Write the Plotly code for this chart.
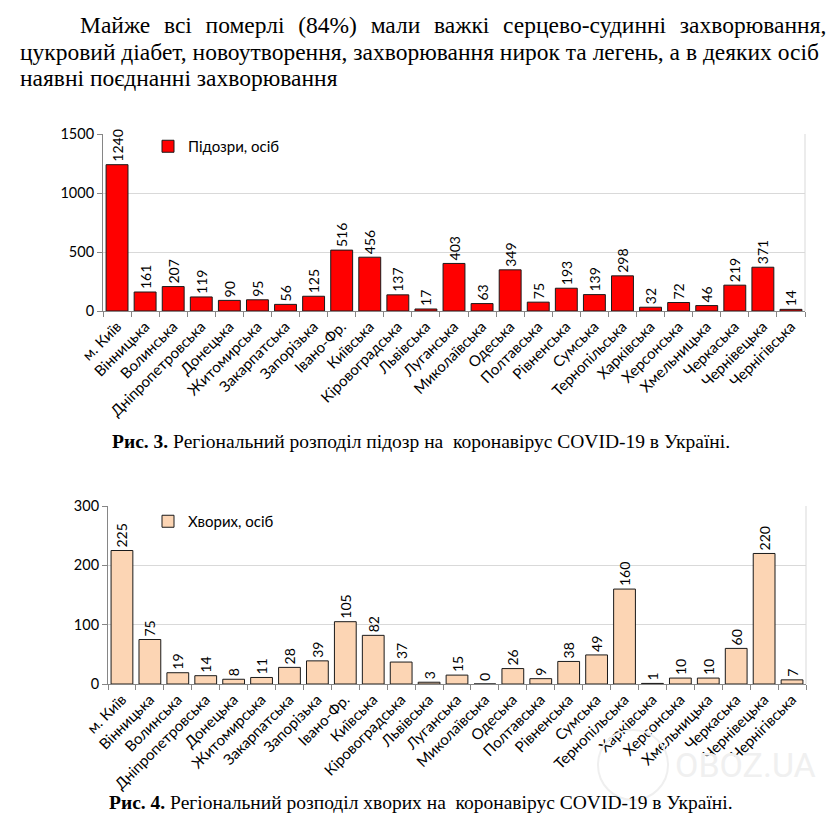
import plotly.graph_objects as go

# the page body adds an 8px margin; draw the figure 8px smaller and shift coordinates
OFF = 8
W, H = 838 - OFF, 822 - OFF

regions = ["м. Київ", "Вінницька", "Волинська", "Дніпропетровська", "Донецька",
           "Житомирська", "Закарпатська", "Запорізька", "Івано-Фр.", "Київська",
           "Кіровоградська", "Львівська", "Луганська", "Миколаївська", "Одеська",
           "Полтавська", "Рівненська", "Сумська", "Тернопільська", "Харківська",
           "Херсонська", "Хмельницька", "Черкаська", "Чернівецька", "Чернігівська"]

suspected = [1240, 161, 207, 119, 90, 95, 56, 125, 516, 456, 137, 17, 403, 63,
             349, 75, 193, 139, 298, 32, 72, 46, 219, 371, 14]

sick = [225, 75, 19, 14, 8, 11, 28, 39, 105, 82, 37, 3, 15, 0, 26, 9, 38, 49,
        160, 1, 10, 10, 60, 220, 7]

name1 = "Підозри, осіб"
name2 = "Хворих, осіб"

y1_ticks = [0, 500, 1000, 1500]
y2_ticks = [0, 100, 200, 300]

caption1 = "<b>Рис. 3.</b> Регіональний розподіл підозр на \u00a0коронавірус COVID-19 в Україні."
caption2 = "<b>Рис. 4.</b> Регіональний розподіл хворих на \u00a0коронавірус COVID-19 в Україні."

line1_words = ["Майже", "всі", "померлі", "(84%)", "мали", "важкі", "серцево-судинні", "захворювання,"]
line2_text = "цукровий діабет, новоутворення, захворювання нирок та легень, а в деяких осіб"
line3_text = "наявні поєднанні захворювання"

SANS = "Lato, 'Open Sans', sans-serif"
SERIF = "'Liberation Serif', 'Times New Roman', serif"
PARA_SIZE = 23.5


def px_x(v):
    return (v - OFF) / W


def px_y(v):
    return 1 - (v - OFF) / H


# justified first line: widen the gaps with non-breaking spaces
line1_text = (" \u00a0\u200a").join(line1_words)

fig = go.Figure()

fig.add_trace(go.Bar(
    x=regions, y=suspected, name=name1, xaxis="x", yaxis="y",
    marker=dict(color="#FF0000", line=dict(color="#1a1a1a", width=1)),
    texttemplate="%{y}", textposition="outside", textangle=-90,
    textfont=dict(family=SANS, size=14, color="#000000"),
    cliponaxis=False, constraintext="none", legend="legend",
    hoverinfo="x+y",
))

fig.add_trace(go.Bar(
    x=regions, y=sick, name=name2, xaxis="x2", yaxis="y2",
    marker=dict(color="#FCD5B4", line=dict(color="#1a1a1a", width=1)),
    texttemplate="%{y}", textposition="outside", textangle=-90,
    textfont=dict(family=SANS, size=14, color="#000000"),
    cliponaxis=False, constraintext="none", legend="legend2",
    hoverinfo="x+y",
))

axis_common_x = dict(
    type="category", tickangle=-45, tickfont=dict(family=SANS, size=15, color="#000000"),
    ticks="outside", tickson="boundaries", ticklen=5, tickcolor="#868686",
    showline=True, linecolor="#868686", linewidth=1, showgrid=False, zeroline=False,
    automargin=False,
)
axis_common_y = dict(
    tickfont=dict(family=SANS, size=14.5, color="#000000"),
    ticks="outside", ticklen=5, tickcolor="#868686",
    showline=True, linecolor="#868686", linewidth=1,
    showgrid=True, gridcolor="#D9D9D9", gridwidth=1, zeroline=False,
    automargin=False,
)

fig.update_layout(
    width=W, height=H,
    margin=dict(l=0, r=0, t=0, b=0, autoexpand=False),
    paper_bgcolor="white", plot_bgcolor="white",
    bargap=0.22,
    xaxis=dict(domain=[px_x(103), px_x(805)], anchor="y", **axis_common_x),
    yaxis=dict(domain=[px_y(311), px_y(134)], anchor="x", range=[0, 1500],
               tickvals=y1_ticks, **axis_common_y),
    xaxis2=dict(domain=[px_x(108), px_x(806)], anchor="y2", **axis_common_x),
    yaxis2=dict(domain=[px_y(684), px_y(506)], anchor="x2", range=[0, 300],
                tickvals=y2_ticks, **axis_common_y),
    legend=dict(x=px_x(148), y=px_y(130), xanchor="left", yanchor="top",
                bgcolor="rgba(0,0,0,0)", font=dict(family=SANS, size=15, color="#000000"),
                itemwidth=30),
    legend2=dict(x=px_x(148), y=px_y(505), xanchor="left", yanchor="top",
                 bgcolor="rgba(0,0,0,0)", font=dict(family=SANS, size=15, color="#000000"),
                 itemwidth=30),
    showlegend=True,
)

shapes = []
for xr, yr in (("x domain", "y domain"), ("x2 domain", "y2 domain")):
    shapes.append(dict(type="line", xref=xr, yref=yr, x0=1, x1=1, y0=0, y1=1,
                       line=dict(color="#D9D9D9", width=1)))
# faint watermark circle
shapes.append(dict(type="circle", xref="paper", yref="paper",
                   x0=px_x(598), x1=px_x(668), y0=px_y(800), y1=px_y(730),
                   line=dict(color="#EFEFEF", width=2)))
fig.update_layout(shapes=shapes)

annotations = []
annotations.append(dict(text=line1_text, x=px_x(78), y=px_y(25), xref="paper", yref="paper",
                        xanchor="left", yanchor="middle", showarrow=False,
                        font=dict(family=SERIF, size=PARA_SIZE, color="#000000")))
annotations.append(dict(text=line2_text, x=px_x(18), y=px_y(51.5), xref="paper", yref="paper",
                        xanchor="left", yanchor="middle", showarrow=False,
                        font=dict(family=SERIF, size=PARA_SIZE, color="#000000")))
annotations.append(dict(text=line3_text, x=px_x(18), y=px_y(78), xref="paper", yref="paper",
                        xanchor="left", yanchor="middle", showarrow=False,
                        font=dict(family=SERIF, size=PARA_SIZE, color="#000000")))
annotations.append(dict(text=caption1, x=px_x(421), y=px_y(441), xref="paper", yref="paper",
                        xanchor="center", yanchor="middle", showarrow=False,
                        font=dict(family=SERIF, size=19.5, color="#000000")))
annotations.append(dict(text=caption2, x=px_x(421), y=px_y(802), xref="paper", yref="paper",
                        xanchor="center", yanchor="middle", showarrow=False,
                        font=dict(family=SERIF, size=19.5, color="#000000")))
annotations.append(dict(text="OBOZ.UA", x=px_x(818), y=px_y(765), xref="paper", yref="paper",
                        xanchor="right", yanchor="middle", showarrow=False,
                        font=dict(family="'Liberation Sans Narrow', Roboto, sans-serif",
                                  size=34, color="#F0F0F0")))
fig.update_layout(annotations=annotations)

fig.write_html("out.html")
